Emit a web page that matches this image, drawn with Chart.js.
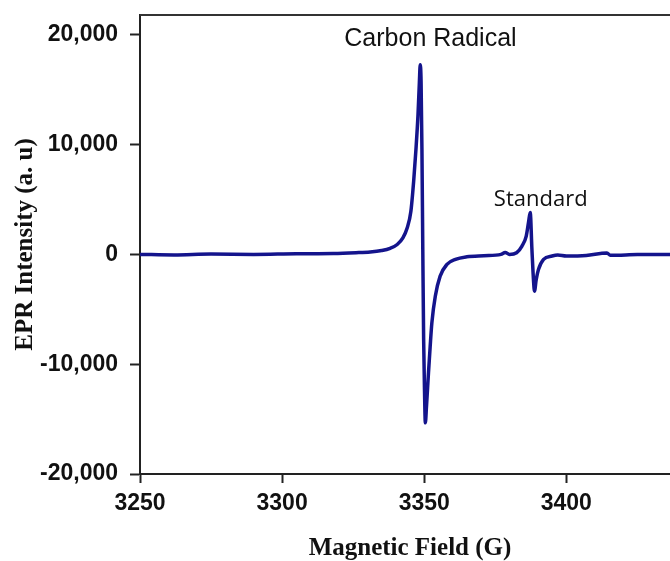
<!DOCTYPE html>
<html>
<head>
<meta charset="utf-8">
<title>EPR spectrum</title>
<script src="https://cdn.jsdelivr.net/npm/chart.js@4/dist/chart.umd.min.js"></script>
<style>
  html, body { margin: 0; padding: 0; background: #fff; overflow: hidden; }
  #wrap { width: 700px; height: 561px; }
</style>
</head>
<body>
<div id="wrap"><canvas id="eprChart" width="700" height="561"></canvas></div>
<script>
// Magnetic field (G) and EPR signal (a.u.)
const fieldG = [3250, 3262, 3275, 3290, 3305, 3318, 3326, 3331, 3335, 3338, 3340.5, 3342.5, 3344, 3345.3,
  3346.3, 3347.1, 3347.8, 3348.3, 3348.6, 3348.9, 3349.2, 3349.5, 3349.8, 3350.1, 3350.4, 3350.8, 3351.5,
  3352.1, 3352.7, 3353.9, 3355.6, 3358, 3361, 3365, 3371, 3377, 3378.5, 3380, 3382.5, 3384.4, 3385.9,
  3386.7, 3387.3, 3387.9, 3388.5, 3388.8, 3389.4, 3390.2, 3392, 3395, 3397, 3400, 3407, 3414.3, 3415.5,
  3425, 3440];
const intensity = [0, -50, 30, 0, 60, 80, 150, 220, 350, 550, 900, 1500, 2400, 3900,
  6700, 9590, 12630, 15680, 17260, 15700, 9590, 460, -7760, -12300, -15340, -13850, -10800,
  -8370, -6210, -3810, -1980, -910, -450, -220, -120, 0, 180, 0, 150, 760, 1670,
  2920, 3810, 460, -2560, -3350, -2300, -1370, -450, -150, -60, -150, -100, 130, -80,
  -20, 0];

// peak labels, placed in data units
const peakLabels = ['Carbon Radical', 'Standard'];
const labelField = [3352.2, 3391];
const labelValue = [19000, 4400];
const labelFonts = ['25px "Liberation Sans", Arial, sans-serif', '22px "Open Sans", "Noto Sans", sans-serif'];

const xTicks = [3250, 3300, 3350, 3400];
const yTicks = [-20000, -10000, 0, 10000, 20000];

const points = fieldG.map((g, i) => ({ x: g, y: intensity[i] }));

const tickFont = { family: '"Liberation Sans", Arial, sans-serif', size: 23, weight: 'bold' };
const titleFont = { family: '"Liberation Serif", "Times New Roman", serif', size: 25, weight: 'bold', lineHeight: 1 };

const frameAndLabels = {
  id: 'frameAndLabels',
  afterDraw(chart) {
    const { ctx, chartArea, scales } = chart;
    ctx.save();
    // top frame line
    ctx.strokeStyle = '#333';
    ctx.lineWidth = 2;
    ctx.beginPath();
    ctx.moveTo(chartArea.left, chartArea.top);
    ctx.lineTo(chartArea.right, chartArea.top);
    ctx.stroke();
    // peak labels
    ctx.fillStyle = '#111';
    ctx.textAlign = 'center';
    ctx.textBaseline = 'alphabetic';
    peakLabels.forEach((txt, i) => {
      ctx.font = labelFonts[i];
      ctx.fillText(txt, scales.x.getPixelForValue(labelField[i]), scales.y.getPixelForValue(labelValue[i]));
    });
    ctx.restore();
  }
};

new Chart(document.getElementById('eprChart'), {
  type: 'line',
  data: {
    datasets: [{
      data: points,
      borderColor: '#14148c',
      borderWidth: 3.5,
      pointRadius: 0,
      cubicInterpolationMode: 'monotone',
      fill: false
    }]
  },
  options: {
    responsive: false,
    animation: false,
    layout: { padding: { left: 0, top: 15, right: 20, bottom: 0 } },
    plugins: { legend: { display: false }, tooltip: { enabled: false } },
    scales: {
      x: {
        type: 'linear',
        min: 3250,
        max: 3440,
        afterBuildTicks: s => { s.ticks = xTicks.map(v => ({ value: v })); },
        afterFit: s => { s.height = 87; s.paddingLeft = 0; s.paddingRight = 0; },
        grid: { drawOnChartArea: false, tickLength: 9, tickWidth: 2, tickColor: '#222' },
        border: { color: '#222', width: 2 },
        ticks: { font: tickFont, color: '#111', padding: 7, maxRotation: 0, callback: v => String(v) },
        title: { display: true, text: 'Magnetic Field (G)', font: titleFont, color: '#111', padding: 0 }
      },
      y: {
        min: -20000,
        max: 21800,
        afterBuildTicks: s => { s.ticks = yTicks.map(v => ({ value: v })); },
        afterFit: s => { s.width = 140; s.paddingTop = 0; s.paddingBottom = 0; },
        grid: { drawOnChartArea: false, tickLength: 10, tickWidth: 2, tickColor: '#222' },
        border: { color: '#222', width: 2 },
        ticks: { font: tickFont, color: '#111', padding: 12, callback: v => v.toLocaleString('en-US') },
        title: { display: true, text: 'EPR Intensity (a. u)', font: titleFont, color: '#111', padding: { top: 13, bottom: 0 } }
      }
    }
  },
  plugins: [frameAndLabels]
});
</script>
</body>
</html>
